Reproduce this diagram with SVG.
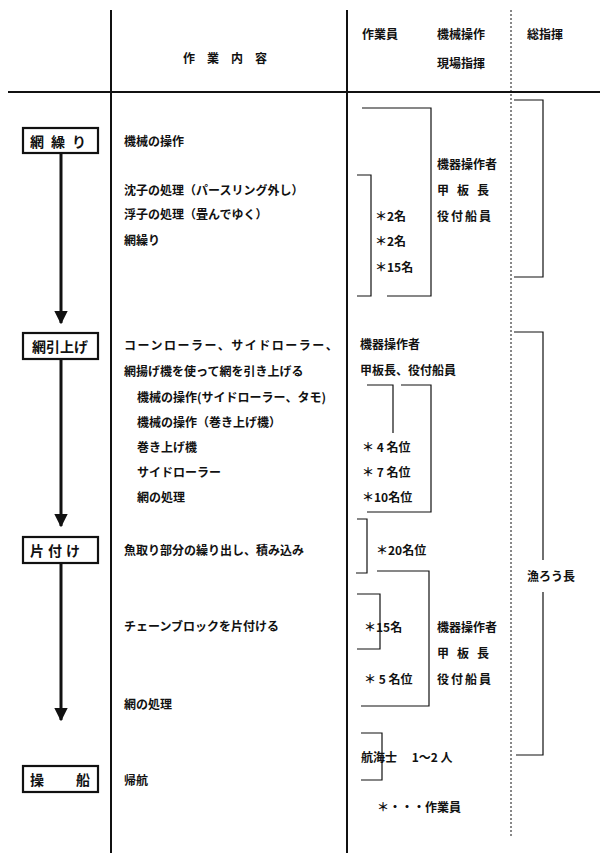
<svg xmlns="http://www.w3.org/2000/svg" width="600" height="853" viewBox="0 0 600 853">
<style>
text{font-family:"Noto Sans CJK JP","Liberation Sans",sans-serif;font-size:12px;font-weight:bold;fill:#111;dominant-baseline:central}
.b{fill:#fff;stroke:#111;stroke-width:2.2}
.bt{font-size:14px}
.l{fill:none;stroke:#111;stroke-width:1.2}
.a{stroke:#111;stroke-width:3}
</style>
<defs><marker id="ah" viewBox="0 0 10 10" refX="9" refY="5" markerWidth="4.5" markerHeight="4.5" orient="auto"><path d="M0,0L10,5L0,10z" fill="#111"/></marker></defs>
<g id="frame">
<line x1="111" y1="10" x2="111" y2="853" stroke="#111" stroke-width="2"/>
<line x1="347" y1="10" x2="347" y2="853" stroke="#111" stroke-width="2"/>
<line x1="8" y1="92" x2="600" y2="92" stroke="#111" stroke-width="2"/>
<line x1="511" y1="10" x2="511" y2="838" stroke="#111" stroke-width="1" stroke-dasharray="2,2"/>
<text x="231" y="57" text-anchor="middle" letter-spacing="12">作業内容</text>
<text x="362" y="33">作業員</text>
<text x="437" y="33">機械操作</text>
<text x="437" y="62">現場指揮</text>
<text x="527" y="33">総指揮</text>
</g>
<g id="connectors">
<line class="a" x1="61" y1="153" x2="61" y2="323" marker-end="url(#ah)"/>
<line class="a" x1="61" y1="359" x2="61" y2="526" marker-end="url(#ah)"/>
<line class="a" x1="61" y1="563" x2="61" y2="720" marker-end="url(#ah)"/>
</g>
<g id="n1"><rect class="b" x="23" y="128" width="75" height="25"/><text class="bt" x="30" y="141" letter-spacing="7">網繰り</text></g>
<g id="n2"><rect class="b" x="23" y="333" width="75" height="26"/><text class="bt" x="32" y="346">網引上げ</text></g>
<g id="n3"><rect class="b" x="23" y="537" width="75" height="26"/><text class="bt" x="30" y="550" letter-spacing="4">片付け</text></g>
<g id="n4"><rect class="b" x="23" y="766" width="75" height="26"/><text class="bt" x="30" y="779" letter-spacing="32">操船</text></g>
<g id="tasks">
<text x="124" y="140">機械の操作</text>
<text x="124" y="189">沈子の処理（パースリング外し）</text>
<text x="124" y="213">浮子の処理（畳んでゆく）</text>
<text x="124" y="239">網繰り</text>
<text x="124" y="344" letter-spacing="1.5">コーンローラー、サイドローラー、</text>
<text x="124" y="370">網揚げ機を使って網を引き上げる</text>
<text x="137" y="396">機械の操作(サイドローラー、タモ)</text>
<text x="137" y="421">機械の操作（巻き上げ機）</text>
<text x="137" y="446">巻き上げ機</text>
<text x="137" y="471">サイドローラー</text>
<text x="137" y="496">網の処理</text>
<text x="124" y="549">魚取り部分の繰り出し、積み込み</text>
<text x="124" y="625">チェーンブロックを片付ける</text>
<text x="124" y="703">網の処理</text>
<text x="124" y="779">帰航</text>
</g>
<g id="staff">
<path class="l" d="M362,108H431V296H387"/>
<path class="l" d="M357,175H371V296H357"/>
<path class="l" d="M514,100H543V277H514"/>
<text x="437" y="163">機器操作者</text>
<text x="437" y="189" letter-spacing="8">甲板長</text>
<text x="437" y="215" letter-spacing="2">役付船員</text>
<text x="375" y="215">＊2名</text>
<text x="375" y="240">＊2名</text>
<text x="375" y="266">＊15名</text>
<text x="360" y="343">機器操作者</text>
<text x="360" y="369">甲板長、役付船員</text>
<path class="l" d="M367,385H393V433"/>
<path class="l" d="M401,385H431V512H367"/>
<text x="362" y="446">＊ 4 名位</text>
<text x="362" y="471">＊ 7 名位</text>
<text x="362" y="496">＊10名位</text>
<path class="l" d="M357,519H367V573H356"/>
<text x="376" y="549">＊20名位</text>
<path class="l" d="M514,332H543V560M543,592V755H516"/>
<text x="527" y="575">漁ろう長</text>
<path class="l" d="M377,571H429V706H361"/>
<path class="l" d="M357,594H380V649H357"/>
<text x="364" y="626">＊15名</text>
<text x="364" y="678">＊ 5 名位</text>
<text x="437" y="626">機器操作者</text>
<text x="437" y="652" letter-spacing="8">甲板長</text>
<text x="437" y="678" letter-spacing="2">役付船員</text>
<path class="l" d="M361,733H382V780H361"/>
<text x="361" y="756">航海士　 1〜2 人</text>
<text x="377" y="806">＊・・・作業員</text>
</g>
</svg>
